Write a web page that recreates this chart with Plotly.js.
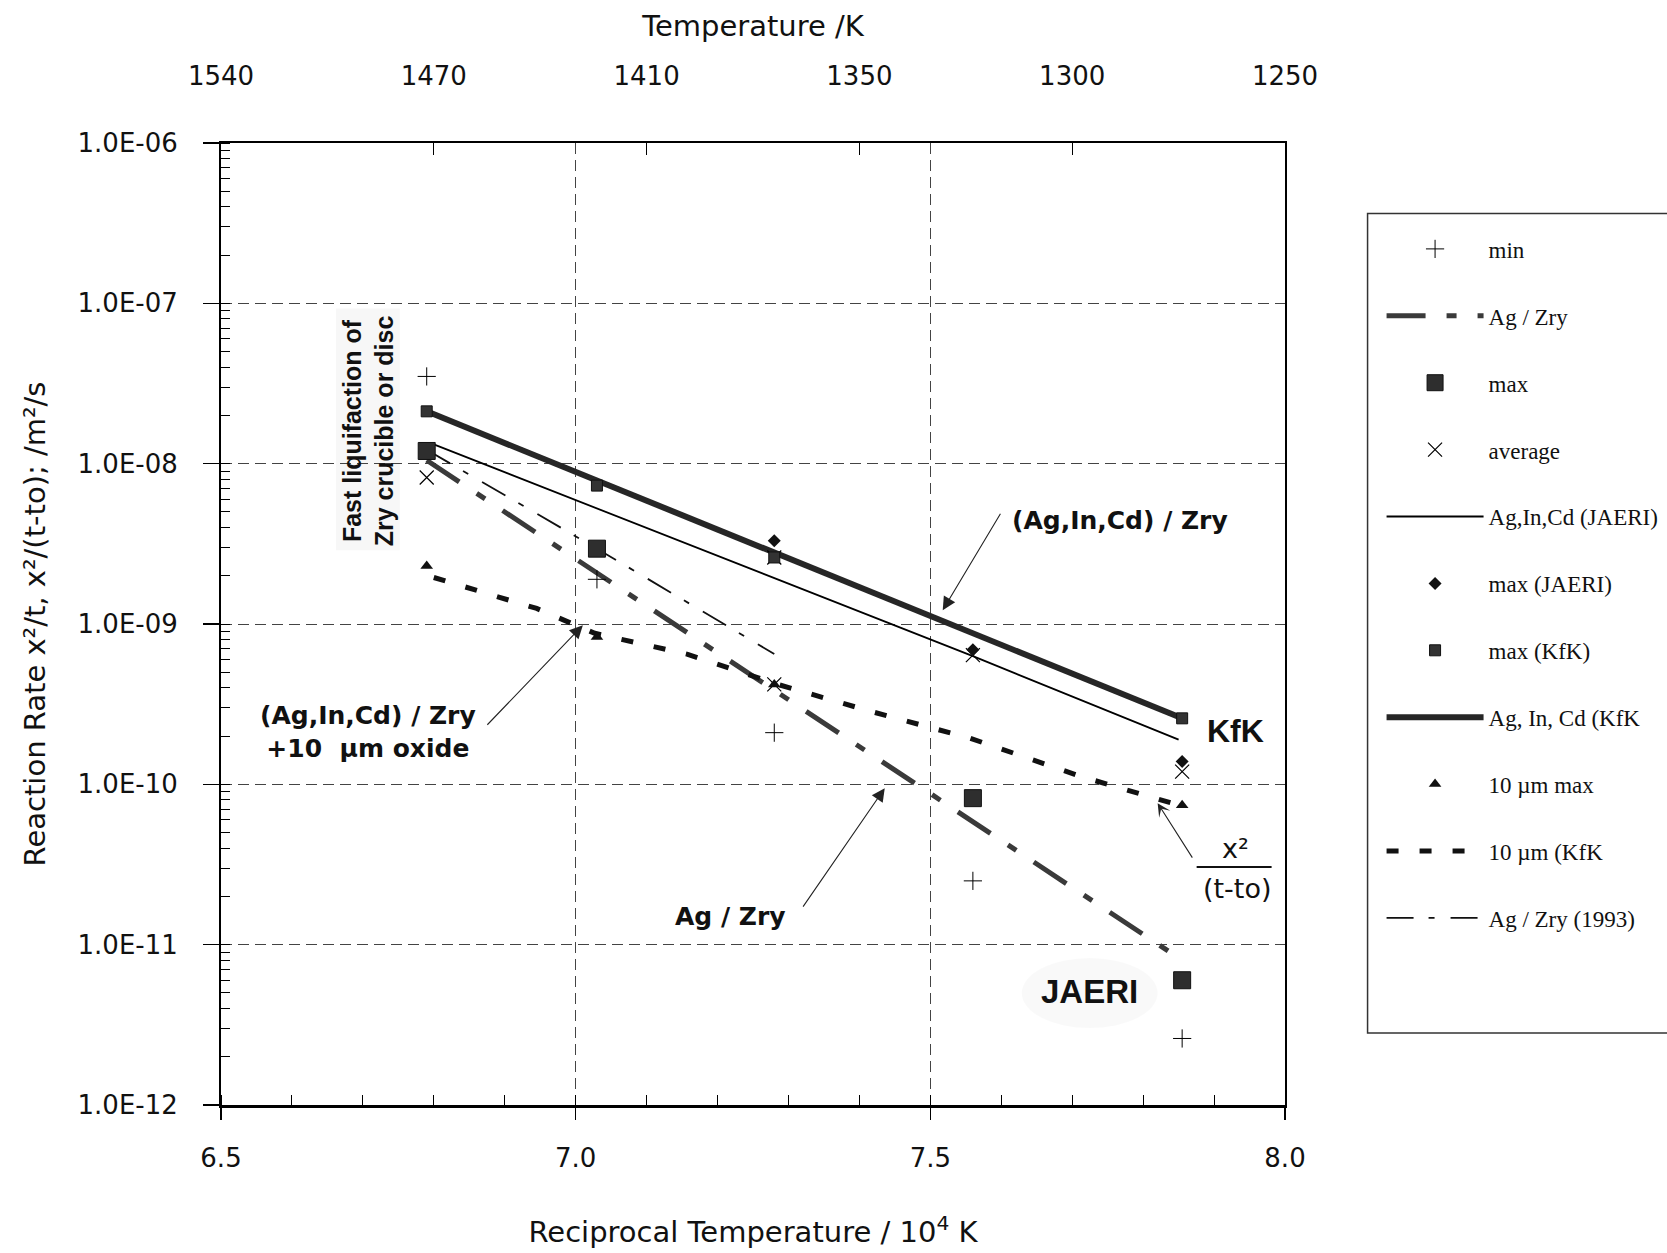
<!DOCTYPE html>
<html><head><meta charset="utf-8">
<script src="https://cdn.plot.ly/plotly-3.0.1.min.js"></script>
<style>html,body{margin:0;padding:0;background:#fff}</style>
</head><body><div id="chart" style="width:1667px;height:1253px"></div>
<script>
// ---------- data (reciprocal temperature / 10^4 K, reaction rate m^2/s) ----------
const xMin = [6.79, 7.03, 7.28, 7.56, 7.855];
const yMin = [3.5e-8, 1.9e-9, 2.1e-10, 2.5e-11, 2.6e-12];
const xMax = [6.79, 7.03, 7.56, 7.855];
const yMax = [1.2e-8, 2.95e-9, 8.2e-11, 6.0e-12];
const xAvg = [6.79, 7.28, 7.28, 7.56, 7.855];
const yAvg = [8.2e-9, 4.2e-10, 2.6e-9, 6.4e-10, 1.2e-10];
const xAgZry = [6.79, 7.855];
const yAgZry = [1.05e-8, 8.0e-12];
const xJaeriLine = [6.80, 7.56, 7.85];
const yJaeriLine = [1.32e-8, 6.3e-10, 1.9e-10];
const xMaxJaeri = [7.28, 7.56, 7.855];
const yMaxJaeri = [3.3e-9, 6.9e-10, 1.39e-10];
const xMaxKfk = [6.79, 7.03, 7.28, 7.855];
const yMaxKfk = [2.12e-8, 7.3e-9, 2.6e-9, 2.58e-10];
const xKfkLine = [6.79, 7.855];
const yKfkLine = [2.12e-8, 2.58e-10];
const x10Max = [6.79, 7.03, 7.28, 7.855];
const y10Max = [2.3e-9, 8.3e-10, 4.2e-10, 7.4e-11];
const x10Line = [6.80, 6.945, 7.027, 7.158, 7.284, 7.416, 7.556, 7.715, 7.851];
const y10Line = [1.95e-9, 1.25e-9, 8.75e-10, 6.47e-10, 4.21e-10, 2.85e-10, 1.94e-10, 1.11e-10, 7.4e-11];
const x1993 = [6.79, 7.03, 7.28];
const y1993 = [1.22e-8, 2.95e-9, 6.5e-10];

const yTickVals = [1e-12, 1e-11, 1e-10, 1e-9, 1e-8, 1e-7, 1e-6];
const yTickText = ['1.0E-12', '1.0E-11', '1.0E-10', '1.0E-09', '1.0E-08', '1.0E-07', '1.0E-06'];
const topTickVals = [6.5, 6.8, 7.1, 7.4, 7.7, 8.0];
const topTickText = ['1540', '1470', '1410', '1350', '1300', '1250'];

// ---------- helpers: pixel -> paper ----------
const L = 221, R = 1285.4, T = 142.5, B = 1105;
const px = p => (p - L) / (R - L);
const py = p => (B - p) / (B - T);

const ARIAL = 'Liberation Sans, Arial, sans-serif';
const SERIF = 'Liberation Serif, Times New Roman, serif';
const WIDE = 'DejaVu Sans, Verdana, sans-serif';

function lineTrace(x, y, name, rank, line) {
  return {x, y, name, type: 'scatter', mode: 'lines', line, legendrank: rank, legendgroup: 'g' + rank, hoverinfo: 'skip'};
}
function markTrace(x, y, name, rank, marker) {
  return {x, y, name, type: 'scatter', mode: 'markers', marker, legendrank: rank, legendgroup: 'g' + rank, hoverinfo: 'skip'};
}

const minTrace = markTrace(xMin, yMin, 'min', 1, {symbol: 'cross-thin', size: 13, color: '#000', line: {color: '#000', width: 1}});
minTrace.xaxis = 'x2'; // same range as x: carries the top temperature axis

const data = [
  lineTrace(x1993, y1993, 'Ag / Zry (1993)', 11, {color: '#111', width: 1.8, dash: '27px,15px,6px,16px'}),
  lineTrace(xAgZry, yAgZry, 'Ag / Zry', 2, {color: '#3a3a3a', width: 5, dash: '39px,21px,10px,21px'}),
  lineTrace(xJaeriLine, yJaeriLine, 'Ag,In,Cd (JAERI)', 5, {color: '#000', width: 1.8}),
  lineTrace(xKfkLine, yKfkLine, 'Ag, In, Cd (KfK', 8, {color: '#262626', width: 6}),
  lineTrace(x10Line, y10Line, '10 µm (KfK', 10, {color: '#111', width: 5, dash: '12px,21px'}),
  markTrace(xMax, yMax, 'max', 3, {symbol: 'square', size: 17, color: '#2e2e2e', line: {color: '#111', width: 1}}),
  markTrace(xAvg, yAvg, 'average', 4, {symbol: 'x-thin', size: 14, color: '#000', line: {color: '#000', width: 1.2}}),
  markTrace(xMaxJaeri, yMaxJaeri, 'max (JAERI)', 6, {symbol: 'diamond', size: 10, color: '#111'}),
  markTrace(xMaxKfk, yMaxKfk, 'max (KfK)', 7, {symbol: 'square', size: 11, color: '#333', line: {color: '#111', width: 1}}),
  markTrace(x10Max, y10Max, '10 µm max', 9, {symbol: 'triangle-up', size: 11, color: '#111'}),
  minTrace
];

const arrowBase = {xref: 'paper', yref: 'paper', text: '', showarrow: true, arrowhead: 2, arrowsize: 2.4,
  arrowwidth: 1.1, arrowcolor: '#222', font: {size: 1}, borderpad: 0, standoff: 0,
  xanchor: 'center', yanchor: 'middle'};

function label(x, y, text, font, extra) {
  return Object.assign({xref: 'paper', yref: 'paper', x: px(x), y: py(y), text, showarrow: false,
    xanchor: 'center', yanchor: 'middle', align: 'center', font}, extra || {});
}

const annotations = [
  // arrows (head x,y ; tail offset ax, ay in px)
  Object.assign({}, arrowBase, {x: px(943), y: py(610), ax: 58, ay: -97}),
  Object.assign({}, arrowBase, {x: px(583), y: py(625), ax: -96, ay: 100}),
  Object.assign({}, arrowBase, {x: px(885), y: py(788), ax: -82, ay: 119}),
  Object.assign({}, arrowBase, {x: px(1158), y: py(803), ax: 35, ay: 55, arrowhead: 3, arrowsize: 2}),
  // texts
  label(1120, 520, '<b>(Ag,In,Cd) / Zry</b>', {family: WIDE, size: 25, color: '#111'}),
  label(368, 732, '<b>(Ag,In,Cd) / Zry<br>+10  µm oxide</b>', {family: WIDE, size: 25, color: '#111'}),
  label(731, 916, '<b>Ag / Zry</b>', {family: WIDE, size: 25, color: '#111'}),
  label(1236, 731, '<b>KfK</b>', {family: ARIAL, size: 32, color: '#111'}),
  label(1090, 991, '<b>JAERI</b>', {family: ARIAL, size: 33, color: '#111'}),
  label(1236, 848, 'x²', {family: WIDE, size: 27, color: '#111'}),
  label(1238, 888, '(t-to)', {family: WIDE, size: 27, color: '#111'}),
  label(368, 430, '<b>Fast liquifaction of<br>Zry crucible or disc</b>', {family: ARIAL, size: 25, color: '#111'}, {textangle: -90})
];

const shapes = [
  // legend frame (runs off the right edge)
  {type: 'rect', xref: 'paper', yref: 'paper', x0: px(1368), x1: px(1720), y0: py(1033), y1: py(213),
   line: {color: '#333', width: 1.5}, fillcolor: 'rgba(0,0,0,0)', layer: 'above'},
  // fraction bar
  {type: 'line', xref: 'paper', yref: 'paper', x0: px(1197), x1: px(1272), y0: py(867), y1: py(867),
   line: {color: '#111', width: 2}},
  // stippled halos
  {type: 'circle', xref: 'paper', yref: 'paper', x0: px(1022), x1: px(1158), y0: py(1028), y1: py(958),
   line: {width: 0}, fillcolor: 'rgba(0,0,0,0.025)', layer: 'below'},
  {type: 'rect', xref: 'paper', yref: 'paper', x0: px(336), x1: px(400), y0: py(550), y1: py(308),
   line: {width: 0}, fillcolor: 'rgba(0,0,0,0.03)', layer: 'below'}
];

const layout = {
  width: 1667, height: 1253,
  margin: {l: L, r: 1667 - R, t: T, b: 1253 - B, autoexpand: false},
  paper_bgcolor: '#fff', plot_bgcolor: '#fff',
  showlegend: true,
  legend: {x: px(1382), y: py(227), xanchor: 'left', yanchor: 'top', bgcolor: 'rgba(0,0,0,0)', borderwidth: 0,
    font: {family: SERIF, size: 23, color: '#111'}, itemwidth: 97, traceorder: 'grouped', tracegroupgap: 34},
  xaxis: {
    range: [6.5, 8.0], dtick: 0.5, tick0: 6.5, tickformat: '.1f',
    ticks: 'outside', ticklen: 12, tickwidth: 1.5, tickcolor: '#000',
    showline: true, linewidth: 3, linecolor: '#000', mirror: false,
    showgrid: true, gridcolor: '#444', gridwidth: 1, griddash: '11px,6px', zeroline: false,
    minor: {dtick: 0.1, ticks: 'inside', ticklen: 10, tickwidth: 1, tickcolor: '#000', showgrid: false},
    tickfont: {family: WIDE, size: 26, color: '#111'}, ticklabelstandoff: 16,
    title: {text: 'Reciprocal Temperature / 10<sup>4</sup> K', font: {family: WIDE, size: 29, color: '#111'}, standoff: 50}
  },
  xaxis2: {
    overlaying: 'x', side: 'top', anchor: 'y', range: [6.5, 8.0],
    tickmode: 'array', tickvals: topTickVals, ticktext: topTickText,
    ticks: 'inside', ticklen: 12, tickwidth: 1.2, tickcolor: '#000',
    showline: true, linewidth: 2, linecolor: '#000', showgrid: false, zeroline: false,
    tickfont: {family: WIDE, size: 26, color: '#111'}, ticklabelstandoff: 46,
    title: {text: 'Temperature /K', font: {family: WIDE, size: 29, color: '#111'}, standoff: 15}
  },
  yaxis: {
    type: 'log', range: [-12, -6],
    tickmode: 'array', tickvals: yTickVals, ticktext: yTickText,
    ticks: 'outside', ticklen: 16, tickwidth: 1.5, tickcolor: '#000',
    showline: true, linewidth: 2, linecolor: '#000', mirror: true,
    showgrid: true, gridcolor: '#444', gridwidth: 1, griddash: '11px,6px', zeroline: false,
    minor: {dtick: 'D1', ticks: 'inside', ticklen: 9, tickwidth: 1, tickcolor: '#000', showgrid: false},
    tickfont: {family: WIDE, size: 26, color: '#111'}, ticklabelstandoff: 20,
    title: {text: 'Reaction Rate x²/t, x²/(t-to); /m²/s', font: {family: WIDE, size: 29, color: '#111'}, standoff: 23}
  },
  annotations, shapes
};

Plotly.newPlot('chart', data, layout, {displayModeBar: false, staticPlot: true});
</script></body></html>
